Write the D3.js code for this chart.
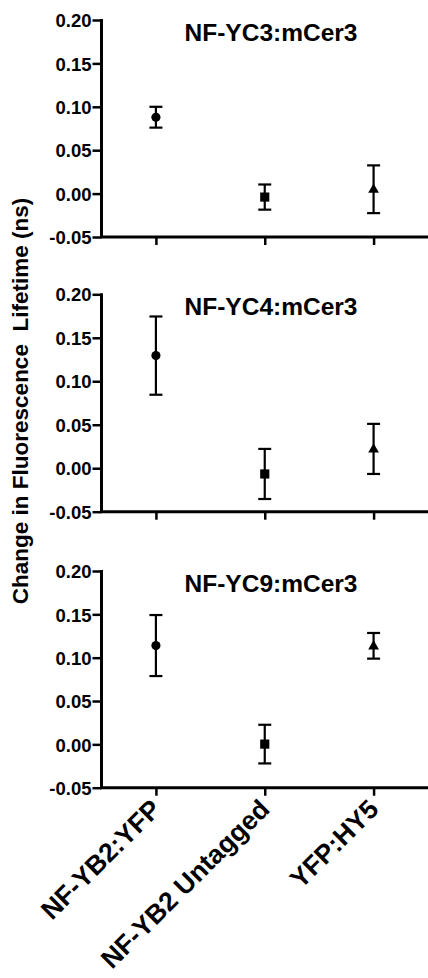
<!DOCTYPE html>
<html>
<head>
<meta charset="utf-8">
<script src="https://cdn.jsdelivr.net/npm/d3@7"></script>
<style>
html,body{margin:0;padding:0;background:#fff;}
svg text{font-family:"Liberation Sans",Arial,Helvetica,sans-serif;font-weight:bold;fill:#000;}
</style>
</head>
<body>
<svg id="chart" width="428" height="978"></svg>
<script>
const categories = ["NF-YB2:YFP", "NF-YB2 Untagged", "YFP:HY5"];
const symbols = ["circle", "square", "triangle"];
const panelTitles = ["NF-YC3:mCer3", "NF-YC4:mCer3", "NF-YC9:mCer3"];
const meansYC3 = [0.088, -0.004, 0.005];
const errsYC3 = [0.012, 0.0145, 0.0275];
const meansYC4 = [0.1295, -0.0066, 0.0222];
const errsYC4 = [0.045, 0.0288, 0.0288];
const meansYC9 = [0.114, 0.0003, 0.1137];
const errsYC9 = [0.0352, 0.0223, 0.0148];
const yTicks = [-0.05, 0.00, 0.05, 0.10, 0.15, 0.20];
const yLabel = "Change in Fluorescence\u00a0\u00a0Lifetime (ns)";

const panels = [
  {title: panelTitles[0], means: meansYC3, errs: errsYC3, top: 20, bottom: 237},
  {title: panelTitles[1], means: meansYC4, errs: errsYC4, top: 294.3, bottom: 511.7},
  {title: panelTitles[2], means: meansYC9, errs: errsYC9, top: 571, bottom: 787.7}
];

const svg = d3.select("#chart");
const xLeft = 101.5, xRight = 428;
const x = d3.scalePoint().domain(categories).range([xLeft, xRight]).padding(0.5);

const symMap = {circle: d3.symbolCircle, square: d3.symbolSquare, triangle: d3.symbolTriangle};
const symSize = {circle: 66, square: 84, triangle: 50};

panels.forEach((p, pi) => {
  const y = d3.scaleLinear().domain([-0.05, 0.20]).range([p.bottom, p.top]);
  const g = svg.append("g");

  // y axis
  const yAxis = d3.axisLeft(y).tickValues(yTicks).tickFormat(d => d.toFixed(2)).tickSize(9).tickPadding(1);
  const ya = g.append("g").attr("transform", `translate(${xLeft},0)`).call(yAxis);
  ya.select(".domain").attr("stroke", "#000").attr("stroke-width", 3).attr("d", `M0,${p.top - 1}V${p.bottom}`);
  ya.selectAll(".tick line").attr("stroke", "#000").attr("stroke-width", 2.5);
  ya.selectAll(".tick text").style("font-size", "18.5px").attr("dy", "0.36em");

  // x axis
  const xAxis = d3.axisBottom(x).tickSize(8).tickFormat(pi === 2 ? (d => d) : (() => ""));
  const xa = g.append("g").attr("transform", `translate(0,${p.bottom})`).call(xAxis);
  xa.select(".domain").attr("stroke", "#000").attr("stroke-width", 3).attr("d", `M${xLeft - 1.5},0H${xRight}`);
  xa.selectAll(".tick line").attr("stroke", "#000").attr("stroke-width", 2.5);
  if (pi === 2) {
    xa.selectAll(".tick text")
      .style("font-size", "26.5px")
      .attr("text-anchor", "end")
      .attr("dy", null)
      .attr("y", 0)
      .attr("transform", "translate(6,23) rotate(-45)");
  }

  // title
  g.append("text").attr("x", 271).attr("y", p.top + 21)
    .attr("text-anchor", "middle").style("font-size", "24.5px").text(p.title);

  // error bars
  const capW = 6.5;
  categories.forEach((c, i) => {
    const cx = x(c);
    const m = p.means[i], e = p.errs[i];
    g.append("line").attr("x1", cx).attr("x2", cx).attr("y1", y(m + e)).attr("y2", y(m - e))
      .attr("stroke", "#000").attr("stroke-width", 2.2);
    [m + e, m - e].forEach(v => {
      g.append("line").attr("x1", cx - capW).attr("x2", cx + capW).attr("y1", y(v)).attr("y2", y(v))
        .attr("stroke", "#000").attr("stroke-width", 2.2);
    });
    const sym = symbols[i];
    g.append("path").attr("d", d3.symbol().type(symMap[sym]).size(symSize[sym])())
      .attr("transform", `translate(${cx},${y(m) + (sym === "triangle" ? 0.5 : 0)})`)
      .attr("fill", "#000");
  });
});

// y label
svg.append("text").attr("transform", "translate(28,401) rotate(-90)")
  .attr("text-anchor", "middle").style("font-size", "22.5px").text(yLabel);
</script>
</body>
</html>
